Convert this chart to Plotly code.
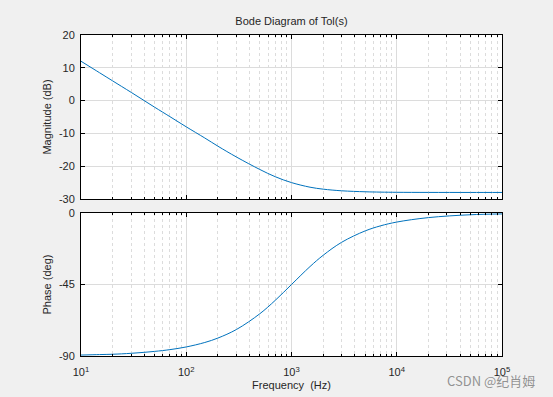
import plotly.graph_objects as go

# Data
freq_hz = [10, 15, 20, 30, 50, 70, 100, 150, 200, 300, 500, 700, 1000, 1500,
           2000, 3000, 5000, 7000, 10000, 20000, 50000, 100000]
magnitude_db = [12.0, 8.5, 6.0, 2.5, -2.0, -4.9, -8.0, -11.4, -13.9, -17.2, -21.0,
                -23.2, -25.0, -26.4, -27.0, -27.5, -27.8, -27.9, -27.96, -27.99, -28.0, -28.0]
phase_deg = [-89.4, -89.1, -88.9, -88.3, -87.1, -86.0, -84.3, -81.5, -78.7, -73.3,
             -63.4, -55.0, -45.0, -33.7, -26.6, -18.4, -11.3, -8.1, -5.7, -2.9, -1.1, -0.6]

mag_ticks = [-30, -20, -10, 0, 10, 20]
mag_ticklabels = ["-30", "-20", "-10", "0", "10", "20"]
phase_ticks = [-90, -45, 0]
phase_ticklabels = ["-90", "-45", "0"]
freq_ticks = [10, 100, 1000, 10000, 100000]
freq_ticklabels = ["10<sup>1</sup>", "10<sup>2</sup>", "10<sup>3</sup>", "10<sup>4</sup>", "10<sup>5</sup>"]

LINE = "#0072BD"
FONT = "Liberation Sans, Arial, sans-serif"
TXT = "#262626"
BG = "#f0f0f0"

fig = go.Figure()
fig.add_trace(go.Scatter(x=freq_hz, y=magnitude_db, mode="lines", line=dict(color=LINE, width=1, shape="spline"),
                         xaxis="x", yaxis="y", showlegend=False))
fig.add_trace(go.Scatter(x=freq_hz, y=phase_deg, mode="lines", line=dict(color=LINE, width=1, shape="spline"),
                         xaxis="x2", yaxis="y2", showlegend=False))

# page body has an 8px margin, so the figure is drawn 8px in from the top-left corner
W, H = 545, 389
L, R, T, B = 73, 51, 27, 41
plot_w = W - L - R
plot_h = H - T - B
top_dom = [(348 - 191) / plot_h, 1.0]
bot_dom = [0.0, (348 - 205) / plot_h]

common_x = dict(type="log", range=[1, 5], showline=True, linecolor="black", linewidth=1, mirror="ticks",
                ticks="inside", ticklen=4, tickcolor="black", showgrid=True, gridcolor="#dcdcdc", gridwidth=1,
                tickvals=freq_ticks, ticktext=freq_ticklabels, ticklabelstandoff=6,
                minor=dict(dtick="D1", showgrid=True, gridcolor="#dcdcdc", griddash="dot", ticks="inside",
                           ticklen=2, tickcolor="black"),
                zeroline=False, tickfont=dict(family=FONT, size=11, color=TXT))
common_y = dict(showline=True, linecolor="black", linewidth=1, mirror="ticks", ticks="inside", ticklen=4,
                tickcolor="black", showgrid=True, gridcolor="#dcdcdc", zeroline=False, ticklabelstandoff=3,
                tickfont=dict(family=FONT, size=11, color=TXT))

fig.update_layout(
    width=W, height=H,
    margin=dict(l=L, r=R, t=T, b=B, autoexpand=False),
    paper_bgcolor=BG, plot_bgcolor="white",
    font=dict(family=FONT, size=11, color=TXT),
    title=dict(text="Bode Diagram of Tol(s)", x=0.5, xanchor="center", xref="paper", y=1 - 13 / H, yanchor="middle",
               font=dict(family=FONT, size=11, color=TXT)),
    xaxis=dict(common_x, domain=[0, 1], anchor="y", showticklabels=False),
    xaxis2=dict(common_x, domain=[0, 1], anchor="y2", matches="x",
                title=dict(text="Frequency  (Hz)", font=dict(family=FONT, size=11, color=TXT), standoff=4)),
    yaxis=dict(common_y, domain=top_dom, anchor="x", range=[-30, 20], tickvals=mag_ticks, ticktext=mag_ticklabels,
               title=dict(text="Magnitude (dB)", font=dict(family=FONT, size=11, color=TXT), standoff=5)),
    yaxis2=dict(common_y, domain=bot_dom, anchor="x2", range=[-90, 0], tickvals=phase_ticks,
                ticktext=phase_ticklabels,
                title=dict(text="Phase (deg)", font=dict(family=FONT, size=11, color=TXT), standoff=5)),
    annotations=[dict(text="CSDN @纪肖姆", x=(529 - L) / plot_w, y=-(372 - (H - B)) / plot_h,
                      xref="paper", yref="paper", showarrow=False,
                      font=dict(family="Noto Sans CJK SC", size=13, color="rgba(120,120,120,0.8)"),
                      xanchor="right", yanchor="middle")],
)

fig.write_html("out.html", post_script="document.body.style.background='%s';" % BG)
